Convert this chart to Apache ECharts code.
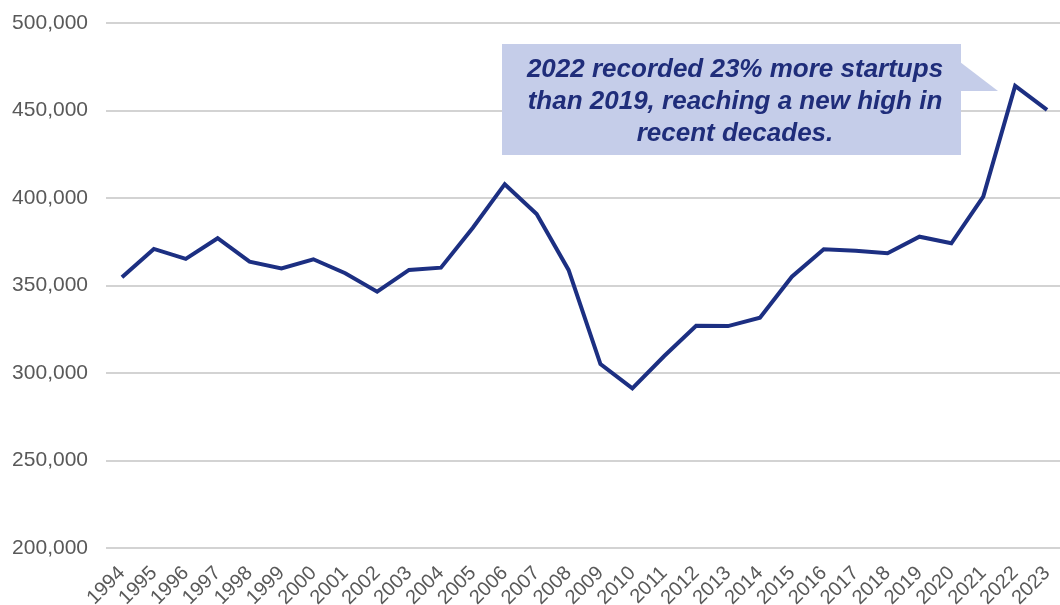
<!DOCTYPE html>
<html>
<head>
<meta charset="utf-8">
<script src="https://cdn.jsdelivr.net/npm/echarts@6/dist/echarts.min.js"></script>
<style>
html,body{margin:0;padding:0;background:#fff;}
#chart{width:1060px;height:605px;}
</style>
</head>
<body>
<div id="chart"></div>
<script>
const years = ['1994','1995','1996','1997','1998','1999','2000','2001','2002','2003','2004','2005','2006','2007','2008','2009','2010','2011','2012','2013','2014','2015','2016','2017','2018','2019','2020','2021','2022','2023'];
const startups = [354700,370900,365200,377000,363600,359800,365000,357000,346500,358900,360200,383000,407900,390900,358900,305100,291200,309700,327000,326800,331600,355000,370700,369900,368400,377900,374100,400800,464100,450400];
const yTicks = {min:200000, max:500000, interval:50000};
const noteLines = ['2022 recorded 23% more startups','than 2019, reaching a new high in','recent decades.'];

const FONT = "'Liberation Sans', Arial, Helvetica, sans-serif";
const chart = echarts.init(document.getElementById('chart'), null, {renderer:'canvas'});
chart.setOption({
  animation:false,
  backgroundColor:'#ffffff',
  grid:{left:106, right:-3, top:23, bottom:57, containLabel:false, outerBoundsMode:'none'},
  xAxis:{
    type:'category',
    data:years,
    boundaryGap:true,
    axisLine:{show:false},
    axisTick:{show:false},
    axisLabel:{rotate:45, interval:0, margin:22, color:'#595959', fontSize:20, fontFamily:FONT}
  },
  yAxis:{
    type:'value',
    min:yTicks.min, max:yTicks.max, interval:yTicks.interval,
    axisLine:{show:false},
    axisTick:{show:false},
    splitLine:{lineStyle:{color:'#c4c4c4', width:1.5}},
    axisLabel:{
      margin:18, color:'#595959', fontSize:21, fontFamily:FONT,
      formatter:v=>v.toLocaleString('en-US')
    }
  },
  series:[{
    type:'line',
    data:startups,
    symbol:'none',
    lineStyle:{color:'#1c2f82', width:4, join:'miter'},
    z:3
  }],
  graphic:[
    {type:'polygon', shape:{points:[[960,62],[998,91],[960,91]]}, style:{fill:'#c5cde9'}, z:10},
    {type:'rect', shape:{x:502, y:44, width:459, height:111}, style:{fill:'#c5cde9'}, z:10},
    {type:'text', x:735, y:101.5, z:11,
      style:{text:noteLines.join('\n'), fill:'#1f2d7a', font:"italic bold 26px "+FONT, align:'center', verticalAlign:'middle', lineHeight:32}}
  ]
});
</script>
</body>
</html>
